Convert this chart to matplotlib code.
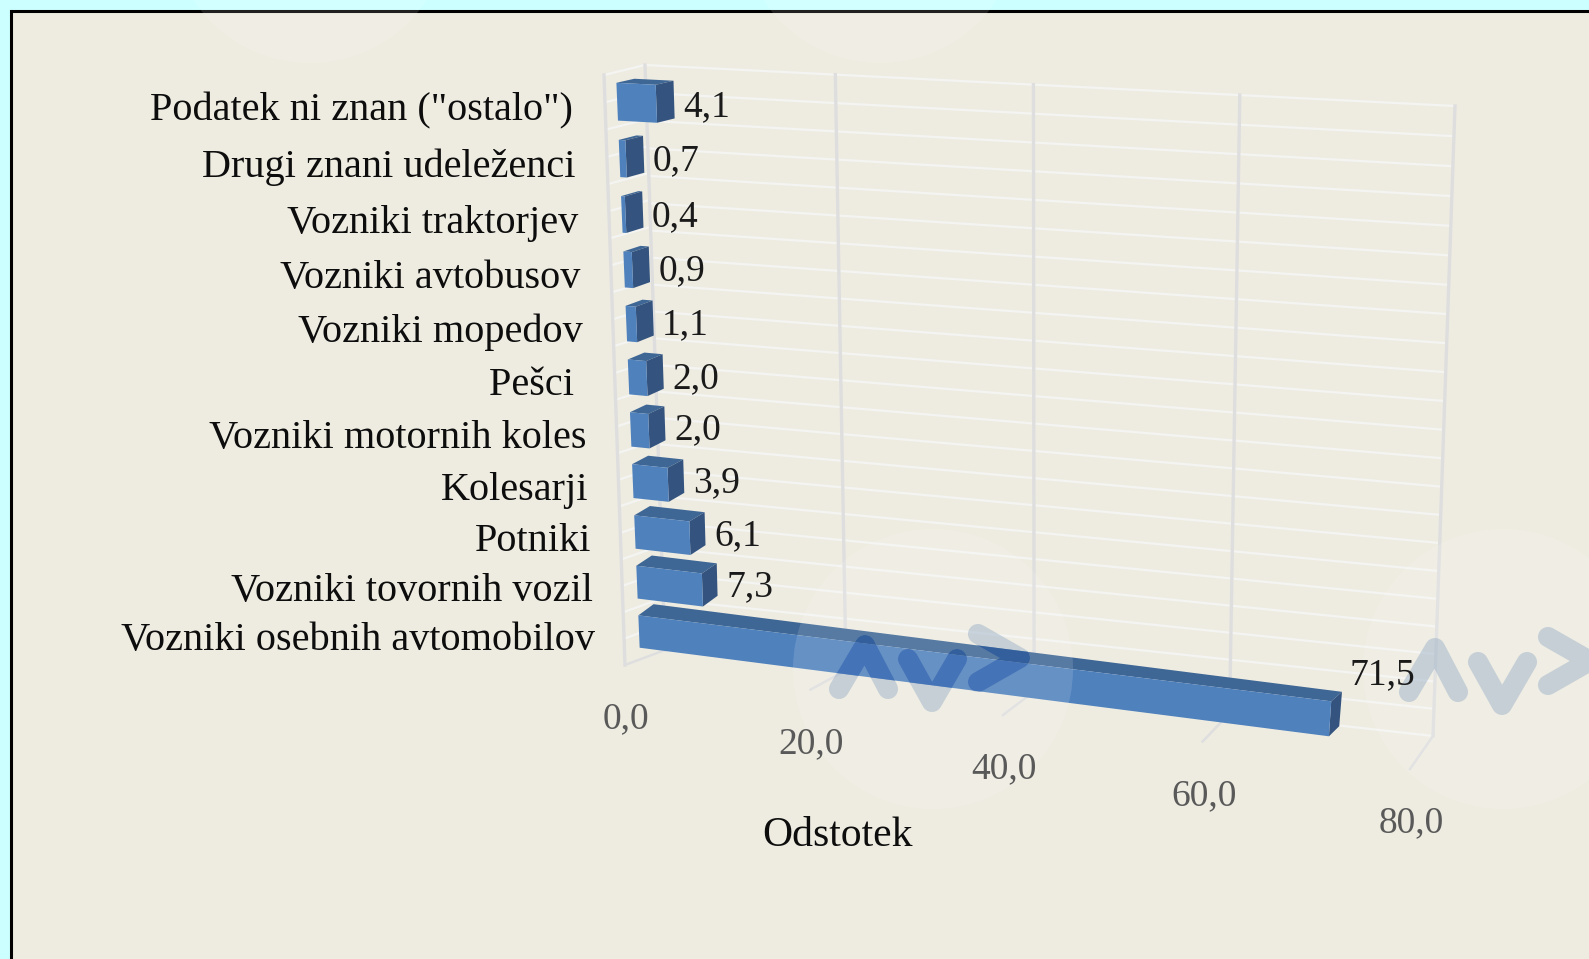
import numpy as np
import matplotlib
matplotlib.use("Agg")
import matplotlib.pyplot as plt
from matplotlib.patches import Polygon, Rectangle, Circle
from matplotlib.transforms import Transform

categories = ['Podatek ni znan ("ostalo")', 'Drugi znani udeleženci', 'Vozniki traktorjev',
              'Vozniki avtobusov', 'Vozniki mopedov', 'Pešci ', 'Vozniki motornih koles',
              'Kolesarji', 'Potniki', 'Vozniki tovornih vozil', 'Vozniki osebnih avtomobilov']
values = [4.1, 0.7, 0.4, 0.9, 1.1, 2.0, 2.0, 3.9, 6.1, 7.3, 71.5]
value_labels = ['4,1', '0,7', '0,4', '0,9', '1,1', '2,0', '2,0', '3,9', '6,1', '7,3', '71,5']
ticks = [0, 20, 40, 60, 80]
tick_labels = ['0,0', '20,0', '40,0', '60,0', '80,0']
axis_title = 'Odstotek'

W, H = 1589, 959
VMAX, N = 80.0, 11.0
PANEL, OUTER = '#EEECE1', '#CCFFFF'
FRONT, SIDE, TOP = '#4F81BD', '#34547F', '#3F6796'
SERIF = 'Liberation Serif'


class Homography(Transform):
    """Projective map of the (value, category) plane to canvas pixels."""
    input_dims = output_dims = 2
    is_separable = False
    has_inverse = False

    def __init__(self, ll, lr, ur, ul, xmax=VMAX, ymax=N):
        super().__init__()
        src = [(0, 0), (xmax, 0), (xmax, ymax), (0, ymax)]
        dst = [ll, lr, ur, ul]
        A, b = [], []
        for (x, y), (u, v) in zip(src, dst):
            A.append([x, y, 1, 0, 0, 0, -u * x, -u * y]); b.append(u)
            A.append([0, 0, 0, x, y, 1, -v * x, -v * y]); b.append(v)
        self.m = np.append(np.linalg.solve(np.array(A, float), np.array(b, float)), 1).reshape(3, 3)

    def transform_non_affine(self, values):
        p = np.column_stack([values, np.ones(len(values))]) @ self.m.T
        return p[:, :2] / p[:, 2:3]


fig = plt.figure(figsize=(W / 100, H / 100), dpi=100, facecolor=OUTER)
ax = fig.add_axes([0, 0, 1, 1])
ax.set_xlim(0, W)
ax.set_ylim(H, 0)
ax.axis('off')

# panel and frame
ax.add_patch(Rectangle((10.5, 10.5), W, H, fc=PANEL, ec='black', lw=2.2, zorder=0))

# projection planes of the 3-D box (canvas pixels of the four corners)
wall = Homography((665, 650), (1433, 736), (1455, 106), (645, 65))
axis_front = Homography((625, 665), (1410, 769), (1410, 139), (625, 80))
side_wall = Homography((625, 665), (665, 650), (645, 65), (604, 75), xmax=1)
bar_front = Homography((640, 656), (1419, 757), (1470, 115), (616, 73))
bar_back = Homography((655, 644), (1429, 747), (1490, 111), (634, 69))

GRID = '#DEDEDE'
WHITE = '#F4F4F2'
for c in np.arange(0, N + 0.01, 0.5):
    ax.plot([0, VMAX], [c, c], color=WHITE, lw=1.6, transform=wall + ax.transData, zorder=1)
    ax.plot([0, 1], [c, c], color=WHITE, lw=1.6, transform=side_wall + ax.transData, zorder=1)
for t in ticks:
    ax.plot([t, t], [0, N], color=GRID, lw=2.4, transform=wall + ax.transData, zorder=1.5)
    p0 = axis_front.transform([(t, 0)])[0]
    p1 = wall.transform([(t, 0)])[0]
    ax.plot([p0[0], p1[0]], [p0[1], p1[1]], color=GRID, lw=1.8, zorder=1.5)
ax.plot([0, 0], [0, N], color=GRID, lw=2.4, transform=side_wall + ax.transData, zorder=1.5)

# bars, from the back row forward
BAR_LOW, BAR_HIGH = 0.17, 0.83
long_front = long_top = None
for i, v in enumerate(values):
    k = len(values) - 1 - i
    lo, hi = k + BAR_LOW, k + BAR_HIGH
    z = 2 + i * 0.01
    tf, tb = bar_front + ax.transData, bar_back + ax.transData
    corners = lambda h: h.transform(np.array([(0, lo), (v, lo), (v, hi), (0, hi)], float))
    f, b = corners(bar_front), corners(bar_back)
    top = ax.add_patch(Polygon([f[3], f[2], b[2], b[3]], closed=True, fc=TOP, ec='none', zorder=z))
    ax.add_patch(Polygon([f[1], b[1], b[2], f[2]], closed=True, fc=SIDE, ec='none', zorder=z))
    front = ax.add_patch(Polygon([(0, lo), (v, lo), (v, hi), (0, hi)], closed=True, fc=FRONT,
                                 ec='none', transform=tf, zorder=z + 0.001))
    if v > 50:
        long_front, long_top = front, top
    # the long bar's label sits above the bar's end
    dx, dy = (9, 34) if v > 50 else (9, -7)
    ax.annotate(value_labels[i], xy=(v, k + 0.5), xycoords=tb, xytext=(dx, dy),
                textcoords='offset pixels', family=SERIF, fontsize=27, color='#1A1A1A',
                ha='left', va='center', zorder=9)
    ax.annotate(categories[i], xy=(0, k + 0.5), xycoords=tf, xytext=(-44, -9),
                textcoords='offset pixels', family=SERIF, fontsize=29, color='#0D0D0D',
                ha='right', va='center', zorder=9)

for t, lab in zip(ticks, tick_labels):
    ax.annotate(lab, xy=(t, 0), xycoords=axis_front + ax.transData, xytext=(1, -54),
                textcoords='offset pixels', family=SERIF, fontsize=27, color='#595959',
                ha='center', va='center', zorder=9)
ax.text(838, 836, axis_title, family=SERIF, fontsize=30, color='#0D0D0D',
        ha='center', va='center', zorder=9)

# semi-transparent watermark: pale discs with the logo strokes
for cx, cy in [(933, 669), (1503, 669), (310, -77), (880, -77)]:
    ax.add_patch(Circle((cx, cy), 140, fc='white', alpha=0.13, ec='none', zorder=7))
logo = [[(1409, 692), (1435, 648), (1458, 692)],
        [(1478, 662), (1502, 705), (1527, 662)],
        [(1548, 637), (1590, 661), (1548, 685)]]
for ox, oy in [(0, 0), (-570, -3)]:
    for stroke in logo:
        xs, ys = zip(*stroke)
        xs, ys = np.array(xs) + ox, np.array(ys) + oy
        kw = dict(lw=14.5, solid_capstyle='round', solid_joinstyle='round')
        ax.plot(xs, ys, color='#9DB2C8', alpha=0.5, zorder=8, **kw)
        # where the logo crosses the long bar it darkens the bar
        line, = ax.plot(xs, ys, color='#4473B8', zorder=8.1, **kw)
        line.set_clip_path(long_front)
        line, = ax.plot(xs, ys, color='#33609C', zorder=8.1, **kw)
        line.set_clip_path(long_top)

fig.savefig('out.png', dpi=100, facecolor=OUTER)
